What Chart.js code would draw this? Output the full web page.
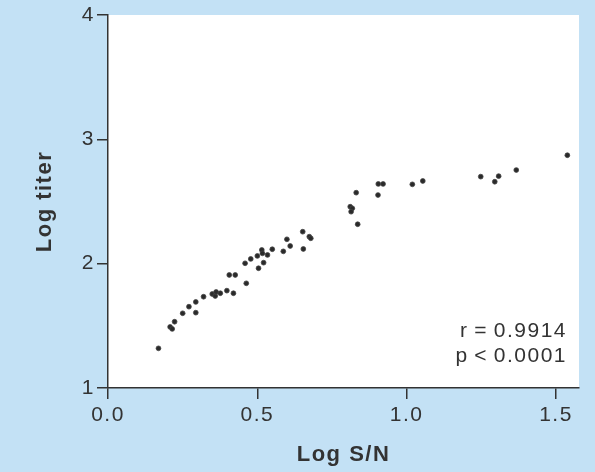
<!DOCTYPE html>
<html>
<head>
<meta charset="utf-8">
<script src="https://cdn.jsdelivr.net/npm/chart.js@4"></script>
<style>
  html, body { margin: 0; padding: 0; background: #c3e1f5; }
  #wrap { width: 595px; height: 472px; }
</style>
</head>
<body>
<div id="wrap"><canvas id="c" width="595" height="472"></canvas></div>
<script>
// ---- data ----
const logSN = [0.169, 0.208, 0.215, 0.223, 0.250, 0.271, 0.294, 0.294, 0.320, 0.349,
               0.359, 0.362, 0.376, 0.398, 0.420, 0.406, 0.426, 0.463, 0.459, 0.478,
               0.500, 0.515, 0.517, 0.534, 0.521, 0.504, 0.550, 0.587, 0.599, 0.610,
               0.652, 0.674, 0.679, 0.654, 0.811, 0.818, 0.814, 0.831, 0.836, 0.905,
               0.921, 0.904, 1.019, 1.054, 1.248, 1.295, 1.308, 1.367, 1.538];
const logTiter = [1.319, 1.491, 1.475, 1.533, 1.601, 1.654, 1.692, 1.606, 1.734, 1.756,
                  1.740, 1.772, 1.762, 1.783, 1.762, 1.909, 1.909, 1.842, 2.003, 2.038,
                  2.062, 2.110, 2.083, 2.070, 2.008, 1.963, 2.116, 2.099, 2.196, 2.142,
                  2.257, 2.217, 2.204, 2.118, 2.458, 2.445, 2.418, 2.571, 2.317, 2.641,
                  2.641, 2.552, 2.638, 2.665, 2.700, 2.659, 2.704, 2.753, 2.872];
const xTicks = [0, 0.5, 1.0, 1.5];
const yTicks = [1, 2, 3, 4];
const statsLines = ['r\u2009=\u20090.9914', 'p\u2009<\u20090.0001'];

const points = logSN.map((x, i) => ({ x: x, y: logTiter[i] }));

const BLUE = '#c3e1f5';
const INK = '#333333';
const FONT = "'Liberation Sans', Arial, Helvetica, sans-serif";

const bgPlugin = {
  id: 'bg',
  beforeDraw(chart) {
    const { ctx, chartArea: a } = chart;
    ctx.save();
    ctx.fillStyle = BLUE;
    ctx.fillRect(0, 0, chart.width, chart.height);
    ctx.fillStyle = '#ffffff';
    ctx.fillRect(a.left, a.top, a.right - a.left, a.bottom - a.top);
    ctx.restore();
    ctx.letterSpacing = '1.5px';
  },
  afterDraw(chart) {
    const { ctx, chartArea: a } = chart;
    ctx.save();
    ctx.letterSpacing = '1.5px';
    ctx.fillStyle = INK;
    ctx.font = "21px " + FONT;
    ctx.textAlign = 'right';
    ctx.textBaseline = 'alphabetic';
    ctx.fillText(statsLines[0], a.right - 12, a.bottom - 51);
    ctx.fillText(statsLines[1], a.right - 12, a.bottom - 26);
    ctx.restore();
  }
};

new Chart(document.getElementById('c'), {
  type: 'scatter',
  data: {
    datasets: [{
      data: points,
      pointStyle: 'circle',
      pointRadius: 2.4,
      pointBorderWidth: 0.8,
      pointBackgroundColor: '#2a2a2a',
      pointBorderColor: '#444444',
      pointHoverRadius: 2.4
    }]
  },
  options: {
    responsive: false,
    animation: false,
    events: [],
    layout: { padding: { top: 15, right: 16, left: 0, bottom: 0 } },
    plugins: { legend: { display: false }, tooltip: { enabled: false } },
    scales: {
      x: {
        type: 'linear',
        min: 0,
        max: 1.577,
        afterBuildTicks: (s) => { s.ticks = xTicks.map(v => ({ value: v })); },
        afterFit: (s) => { s.height = 84; },
        grid: { drawOnChartArea: false, drawTicks: true, tickLength: 11, color: INK, lineWidth: 1.5 },
        border: { display: true, color: INK, width: 1.5 },
        ticks: {
          padding: 4,
          color: INK,
          font: { family: FONT, size: 21 },
          callback: (v) => Number(v).toFixed(1)
        },
        title: {
          display: true,
          text: 'Log S/N',
          color: INK,
          font: { family: FONT, size: 22, weight: 'bold' },
          padding: { top: 0, bottom: 4 }
        }
      },
      y: {
        type: 'linear',
        min: 1,
        max: 4,
        afterBuildTicks: (s) => { s.ticks = yTicks.map(v => ({ value: v })); },
        afterFit: (s) => { s.width = 108; },
        grid: { drawOnChartArea: false, drawTicks: true, tickLength: 11, color: INK, lineWidth: 1.5 },
        border: { display: true, color: INK, width: 1.5 },
        ticks: {
          padding: 2,
          color: INK,
          font: { family: FONT, size: 21 },
          callback: (v) => String(v)
        },
        title: {
          display: true,
          text: 'Log titer',
          color: INK,
          font: { family: FONT, size: 22, weight: 'bold' },
          padding: { top: 32, bottom: 0 }
        }
      }
    }
  },
  plugins: [bgPlugin]
});
</script>
</body>
</html>
